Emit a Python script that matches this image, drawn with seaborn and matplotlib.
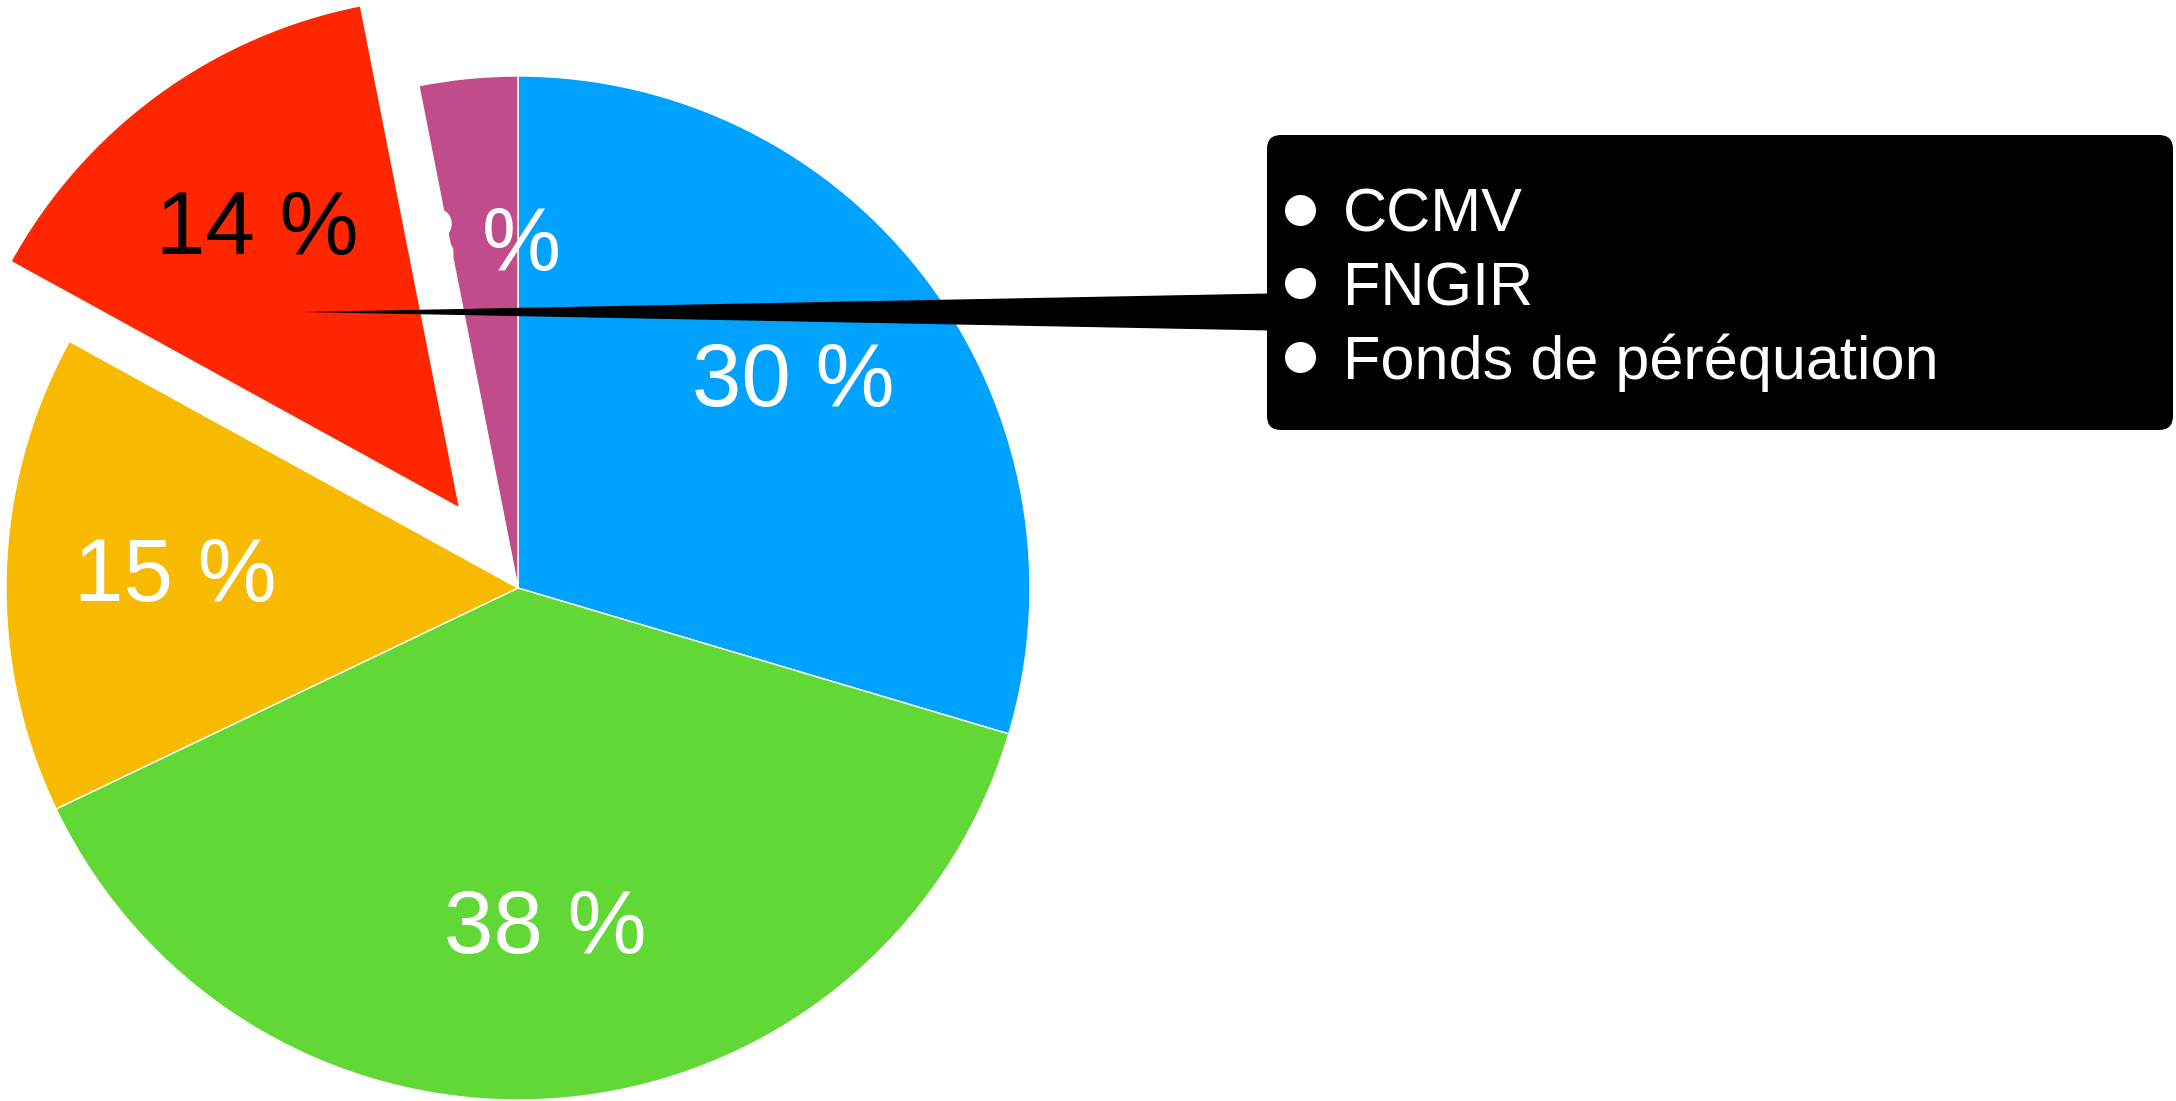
import matplotlib.pyplot as plt
from matplotlib.patches import FancyBboxPatch, Polygon
import seaborn as sns

# pie data (clockwise from 12 o'clock), shares in %
parts = [29.6, 38.3, 15.1, 13.9, 3.1]
part_colors = ["#00A2FF", "#61D836", "#F8BA00", "#FF2600", "#C04C8B"]
pct_colors = ["white", "white", "white", "black", "white"]
pulled_out = [False, False, False, True, False]

# tooltip entries
tip_labels = ["CCMV", "FNGIR", "Fonds de péréquation"]

sns.set_theme(style="white")
plt.rcParams["font.family"] = ["Liberation Sans", "DejaVu Sans"]

W, H = 2176, 1101
fig = plt.figure(figsize=(W / 100, H / 100), dpi=100)
ax = fig.add_axes([0, 0, 1, 1])

cx, cy, r = 518, H - 588, 512
# matplotlib's explode is in data units, here pixels
explode = [99 if p else 0 for p in pulled_out]
wedges, texts, autotexts = ax.pie(
    parts,
    colors=sns.color_palette(part_colors),
    explode=explode,
    startangle=90,
    counterclock=False,
    radius=r,
    center=(cx, cy),
    autopct=lambda p: f"{p:.0f} %",
    pctdistance=0.67,
    wedgeprops=dict(edgecolor="white", linewidth=1),
    textprops=dict(fontsize=64),
)
for t, c in zip(autotexts, pct_colors):
    t.set_color(c)

# pixel-like coordinates, y up
ax.set_xlim(0, W)
ax.set_ylim(0, H)
ax.set_aspect("equal")
ax.axis("off")

# tooltip box + pointer
box_l, box_r, box_t, box_b = 1267, 2173, 135, 430
ax.add_patch(FancyBboxPatch((box_l, H - box_b), box_r - box_l, box_b - box_t,
                            boxstyle="round,pad=0,rounding_size=14",
                            fc="black", ec="none", zorder=3))
tip_y = H - 312
ax.add_patch(Polygon([(303, tip_y), (box_l + 2, tip_y + 18.5), (box_l + 2, tip_y - 18.5)],
                     closed=True, fc="black", ec="none", zorder=3))

row_y = [H - 210, H - 283, H - 357]
ax.scatter([1300] * len(row_y), row_y, s=500, c="white", linewidths=0, zorder=4)
for y, lab in zip(row_y, tip_labels):
    ax.text(1343, y - 22, lab, color="white", fontsize=44, va="baseline", zorder=4)

fig.savefig("out.png", dpi=100)
